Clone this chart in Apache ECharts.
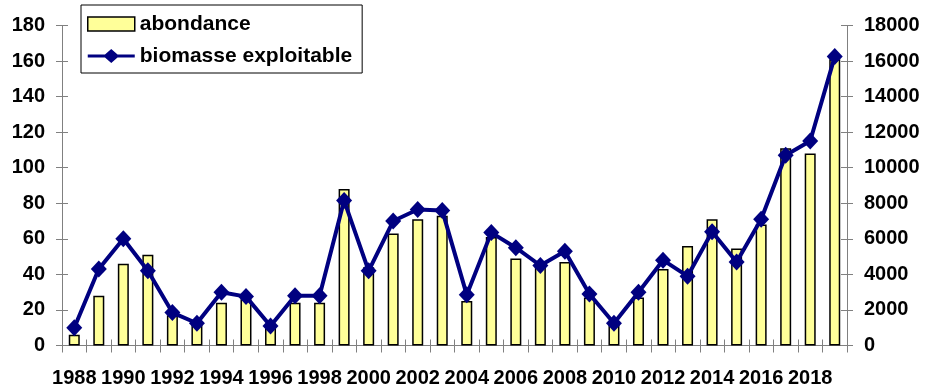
<!DOCTYPE html>
<html>
<head>
<meta charset="utf-8">
<script src="https://cdn.jsdelivr.net/npm/echarts@6/dist/echarts.min.js"></script>
<style>
  html, body { margin: 0; padding: 0; background: #fff; }
  #chart { width: 925px; height: 391px; }
</style>
</head>
<body>
<div id="chart"></div>
<script>
// Survey years
const years = ['1988','1989','1990','1991','1992','1993','1994','1995','1996','1997',
  '1998','1999','2000','2001','2002','2003','2004','2005','2006','2007',
  '2008','2009','2010','2011','2012','2013','2014','2015','2016','2017',
  '2018','2019'];

// Abundance index (left axis)
const abondance = [6, 28, 46, 51, 17, 12, 24, 26, 10, 24,
  24, 88, 44, 63, 71, 73, 25, 61, 49, 45,
  47, 27, 13, 27, 43, 56, 71, 54.5, 68, 111,
  108, 161];

// Exploitable biomass (right axis)
const biomasse = [1000, 4300, 6000, 4200, 1850, 1250, 3000, 2750, 1100, 2800,
  2800, 8150, 4200, 7000, 7650, 7600, 2850, 6350, 5500, 4500,
  5300, 2900, 1250, 3000, 4800, 3900, 6400, 4700, 7100, 10700,
  11500, 16250];

// Axis scales
const leftAxis = { min: 0, max: 180, interval: 20 };
const rightAxis = { min: 0, max: 18000, interval: 2000 };

const FONT = '"Liberation Sans", Arial, sans-serif';
const GREY = '#808080';
const NAVY = '#000080';
const labelStyle = { color: '#000', fontFamily: FONT, fontWeight: 'bold', fontSize: 20 };

// Legend glyph for the line series: a thick stroke with a diamond marker
const lineLegendIcon = 'path://M0,5.5L47,5.5L47,8.5L0,8.5Z M23.5,0L31.5,7L23.5,14L15.5,7Z';

const chart = echarts.init(document.getElementById('chart'), null, { renderer: 'canvas' });

// Value axis helper; the "inner" copies draw the inside half of crossing ticks
function valueAxis(scale, position, inner) {
  return {
    type: 'value',
    position: position,
    min: scale.min, max: scale.max, interval: scale.interval,
    splitLine: { show: false },
    axisLine: { show: !inner, lineStyle: { color: GREY, width: 1 } },
    axisTick: { show: true, inside: !!inner, length: 6, lineStyle: { color: GREY, width: 1 } },
    axisLabel: inner ? { show: false }
      : Object.assign({ margin: 17, formatter: v => String(v) }, labelStyle)
  };
}

chart.setOption({
  animation: false,
  backgroundColor: '#fff',
  grid: { left: 62, right: 78, top: 25.5, bottom: 45.5, containLabel: false },
  legend: {
    orient: 'vertical',
    left: 81, top: 5,
    width: 270,
    padding: [8, 10, 6, 6],
    itemGap: 10,
    itemWidth: 47,
    itemHeight: 14,
    borderColor: '#000',
    borderWidth: 1,
    backgroundColor: '#fff',
    textStyle: { color: '#000', fontFamily: FONT, fontWeight: 'bold', fontSize: 21, lineHeight: 22 },
    data: [
      { name: 'abondance', icon: 'rect',
        itemStyle: { color: '#FFFF99', borderColor: '#000', borderWidth: 1.5 } },
      { name: 'biomasse exploitable', icon: lineLegendIcon,
        itemStyle: { color: NAVY, borderWidth: 0 } }
    ]
  },
  xAxis: [
    {
      type: 'category',
      data: years,
      position: 'bottom',
      boundaryGap: true,
      axisLine: { show: true, lineStyle: { color: GREY, width: 1 } },
      axisTick: { show: true, interval: 0, length: 7, lineStyle: { color: GREY, width: 1 } },
      axisLabel: Object.assign({ interval: 1, margin: 23 }, labelStyle)
    },
    {
      type: 'category',
      data: years,
      position: 'bottom',
      boundaryGap: true,
      axisLine: { show: false },
      axisTick: { show: true, inside: true, interval: 0, length: 6, lineStyle: { color: GREY, width: 1 } },
      axisLabel: { show: false }
    }
  ],
  yAxis: [
    valueAxis(leftAxis, 'left', false),
    valueAxis(rightAxis, 'right', false),
    valueAxis(leftAxis, 'left', true),
    valueAxis(rightAxis, 'right', true)
  ],
  series: [
    {
      name: 'abondance',
      type: 'bar',
      xAxisIndex: 0,
      yAxisIndex: 0,
      barWidth: 11,
      data: abondance,
      itemStyle: { color: '#FFFF99', borderColor: '#000', borderWidth: 1.5 },
      z: 2
    },
    {
      name: 'biomasse exploitable',
      type: 'line',
      xAxisIndex: 0,
      yAxisIndex: 1,
      data: biomasse,
      symbol: 'diamond',
      symbolSize: [16, 17],
      showAllSymbol: true,
      lineStyle: { color: NAVY, width: 4 },
      itemStyle: { color: NAVY },
      z: 3
    }
  ]
});
</script>
</body>
</html>
